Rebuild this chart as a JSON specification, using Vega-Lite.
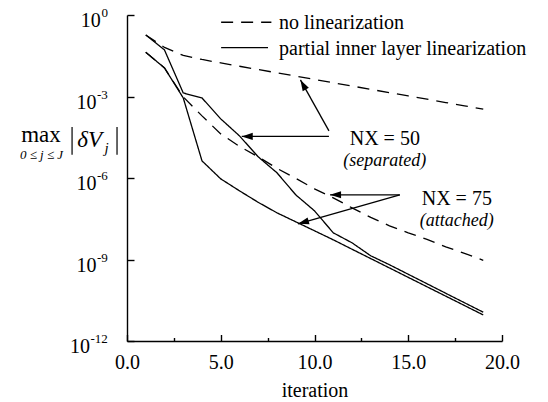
{
  "$schema": "https://vega.github.io/schema/vega-lite/v6.json",
  "width": 375,
  "height": 326,
  "autosize": {"type": "none"},
  "padding": {"left": 127, "top": 15, "right": 46, "bottom": 61},
  "background": "white",
  "config": {
    "font": "Liberation Serif",
    "view": {"stroke": null},
    "axis": {"grid": false, "domainColor": "black", "tickColor": "black", "labelColor": "black", "titleColor": "black", "domainWidth": 1.4, "tickWidth": 1.4, "labelFont": "Liberation Serif", "titleFont": "Liberation Serif", "titleFontWeight": "normal"}
  },
  "layer": [
    {
      "data": {"values": [
        {"it":1,"v":0.1837,"method":"no linearization","nx":"50"},
        {"it":2,"v":0.0638,"method":"no linearization","nx":"50"},
        {"it":3,"v":0.0324,"method":"no linearization","nx":"50"},
        {"it":4,"v":0.0231,"method":"no linearization","nx":"50"},
        {"it":5,"v":0.0172,"method":"no linearization","nx":"50"},
        {"it":6,"v":0.0130,"method":"no linearization","nx":"50"},
        {"it":7,"v":0.00982,"method":"no linearization","nx":"50"},
        {"it":8,"v":0.00743,"method":"no linearization","nx":"50"},
        {"it":9,"v":0.00561,"method":"no linearization","nx":"50"},
        {"it":10,"v":0.00425,"method":"no linearization","nx":"50"},
        {"it":11,"v":0.00321,"method":"no linearization","nx":"50"},
        {"it":12,"v":0.00243,"method":"no linearization","nx":"50"},
        {"it":13,"v":0.00183,"method":"no linearization","nx":"50"},
        {"it":14,"v":0.00139,"method":"no linearization","nx":"50"},
        {"it":15,"v":0.00105,"method":"no linearization","nx":"50"},
        {"it":16,"v":0.000794,"method":"no linearization","nx":"50"},
        {"it":17,"v":0.000600,"method":"no linearization","nx":"50"},
        {"it":18,"v":0.000454,"method":"no linearization","nx":"50"},
        {"it":19,"v":0.000344,"method":"no linearization","nx":"50"},
        {"it":1,"v":0.1837,"method":"partial inner layer linearization","nx":"50"},
        {"it":2,"v":0.0516,"method":"partial inner layer linearization","nx":"50"},
        {"it":3,"v":0.00135,"method":"partial inner layer linearization","nx":"50"},
        {"it":4,"v":0.000885,"method":"partial inner layer linearization","nx":"50"},
        {"it":5,"v":0.000150,"method":"partial inner layer linearization","nx":"50"},
        {"it":6,"v":3.55e-5,"method":"partial inner layer linearization","nx":"50"},
        {"it":7,"v":6.0e-6,"method":"partial inner layer linearization","nx":"50"},
        {"it":8,"v":1.55e-6,"method":"partial inner layer linearization","nx":"50"},
        {"it":9,"v":2.40e-7,"method":"partial inner layer linearization","nx":"50"},
        {"it":10,"v":6.19e-8,"method":"partial inner layer linearization","nx":"50"},
        {"it":11,"v":9.62e-9,"method":"partial inner layer linearization","nx":"50"},
        {"it":12,"v":4.12e-9,"method":"partial inner layer linearization","nx":"50"},
        {"it":13,"v":1.37e-9,"method":"partial inner layer linearization","nx":"50"},
        {"it":14,"v":6.40e-10,"method":"partial inner layer linearization","nx":"50"},
        {"it":15,"v":2.86e-10,"method":"partial inner layer linearization","nx":"50"},
        {"it":16,"v":1.28e-10,"method":"partial inner layer linearization","nx":"50"},
        {"it":17,"v":5.71e-11,"method":"partial inner layer linearization","nx":"50"},
        {"it":18,"v":2.56e-11,"method":"partial inner layer linearization","nx":"50"},
        {"it":19,"v":1.15e-11,"method":"partial inner layer linearization","nx":"50"},
        {"it":1,"v":0.0425,"method":"no linearization","nx":"75"},
        {"it":2,"v":0.01125,"method":"no linearization","nx":"75"},
        {"it":3,"v":0.000964,"method":"no linearization","nx":"75"},
        {"it":4,"v":0.000193,"method":"no linearization","nx":"75"},
        {"it":5,"v":4.20e-5,"method":"no linearization","nx":"75"},
        {"it":6,"v":1.46e-5,"method":"no linearization","nx":"75"},
        {"it":7,"v":6.0e-6,"method":"no linearization","nx":"75"},
        {"it":8,"v":2.26e-6,"method":"no linearization","nx":"75"},
        {"it":9,"v":9.70e-7,"method":"no linearization","nx":"75"},
        {"it":10,"v":3.99e-7,"method":"no linearization","nx":"75"},
        {"it":11,"v":1.86e-7,"method":"no linearization","nx":"75"},
        {"it":12,"v":7.98e-8,"method":"no linearization","nx":"75"},
        {"it":13,"v":3.56e-8,"method":"no linearization","nx":"75"},
        {"it":14,"v":1.74e-8,"method":"no linearization","nx":"75"},
        {"it":15,"v":9.59e-9,"method":"no linearization","nx":"75"},
        {"it":16,"v":5.53e-9,"method":"no linearization","nx":"75"},
        {"it":17,"v":2.93e-9,"method":"no linearization","nx":"75"},
        {"it":18,"v":1.69e-9,"method":"no linearization","nx":"75"},
        {"it":19,"v":9.35e-10,"method":"no linearization","nx":"75"},
        {"it":1,"v":0.0425,"method":"partial inner layer linearization","nx":"75"},
        {"it":2,"v":0.01125,"method":"partial inner layer linearization","nx":"75"},
        {"it":3,"v":0.000885,"method":"partial inner layer linearization","nx":"75"},
        {"it":4,"v":4.27e-6,"method":"partial inner layer linearization","nx":"75"},
        {"it":5,"v":9.29e-7,"method":"partial inner layer linearization","nx":"75"},
        {"it":6,"v":3.37e-7,"method":"partial inner layer linearization","nx":"75"},
        {"it":7,"v":1.27e-7,"method":"partial inner layer linearization","nx":"75"},
        {"it":8,"v":5.22e-8,"method":"partial inner layer linearization","nx":"75"},
        {"it":9,"v":2.44e-8,"method":"partial inner layer linearization","nx":"75"},
        {"it":10,"v":1.14e-8,"method":"partial inner layer linearization","nx":"75"},
        {"it":11,"v":5.31e-9,"method":"partial inner layer linearization","nx":"75"},
        {"it":12,"v":2.39e-9,"method":"partial inner layer linearization","nx":"75"},
        {"it":13,"v":1.08e-9,"method":"partial inner layer linearization","nx":"75"},
        {"it":14,"v":4.88e-10,"method":"partial inner layer linearization","nx":"75"},
        {"it":15,"v":2.20e-10,"method":"partial inner layer linearization","nx":"75"},
        {"it":16,"v":9.91e-11,"method":"partial inner layer linearization","nx":"75"},
        {"it":17,"v":4.48e-11,"method":"partial inner layer linearization","nx":"75"},
        {"it":18,"v":2.02e-11,"method":"partial inner layer linearization","nx":"75"},
        {"it":19,"v":9.10e-12,"method":"partial inner layer linearization","nx":"75"}
      ]},
      "mark": {"type": "line", "color": "black", "strokeWidth": 1.3},
      "encoding": {
        "x": {"field": "it", "type": "quantitative", "scale": {"domain": [0, 20], "nice": false},
          "axis": {"title": "iteration", "titleFontSize": 20, "titlePadding": 8, "values": [0,2.5,5,7.5,10,12.5,15,17.5,20], "labelExpr": "datum.value % 5 == 0 ? format(datum.value, '.1f') : ''", "labelFlush": false, "labelFontSize": 20, "labelPadding": 18, "tickSize": {"condition": {"test": "datum.value % 5 != 0", "value": -3.5}, "value": -6.5}}},
        "y": {"field": "v", "type": "quantitative", "scale": {"type": "log", "domain": [1e-12, 1], "nice": false},
          "axis": {"title": null, "values": [1, 0.001, 1e-6, 1e-9, 1e-12], "labelExpr": "'10'", "labelFontSize": 20, "tickSize": -7, "labelBaseline": "alphabetic", "labelOffset": 11.5,
            "labelPadding": {"condition": [{"test": "datum.value > 0.5", "value": 33.7}, {"test": "datum.value < 1e-11", "value": 44.5}], "value": 38}}},
        "strokeDash": {"field": "method", "type": "nominal",
          "scale": {"domain": ["no linearization", "partial inner layer linearization"], "range": [[12, 8], [1, 0]]},
          "legend": null},
        "detail": {"field": "nx", "type": "nominal"}
      }
    },
    {
      "data": {"values": [
        {"v": 1, "e": "0"}, {"v": 0.001, "e": "-3"}, {"v": 1e-6, "e": "-6"}, {"v": 1e-9, "e": "-9"}, {"v": 1e-12, "e": "-12"}
      ]},
      "mark": {"type": "text", "fontSize": 13, "align": "right", "baseline": "alphabetic", "dy": 2, "color": "black", "font": "Liberation Serif"},
      "encoding": {"x": {"datum": -1.02, "type": "quantitative"}, "y": {"field": "v", "type": "quantitative"}, "text": {"field": "e"}}
    },
    {
      "data": {"values": [
        {"method": "no linearization", "x": 5.02, "x2": 7.7, "y": 0.54},
        {"method": "partial inner layer linearization", "x": 5.02, "x2": 7.52, "y": 0.0627}
      ]},
      "mark": {"type": "rule", "color": "black", "strokeWidth": 1.3},
      "encoding": {
        "x": {"field": "x", "type": "quantitative"},
        "x2": {"field": "x2"},
        "y": {"field": "y", "type": "quantitative"},
        "strokeDash": {"field": "method", "type": "nominal", "legend": null}
      }
    },
    {
      "data": {"values": [
        {"label": "no linearization", "x": 8.11, "y": 0.293},
        {"label": "partial inner layer linearization", "x": 8.11, "y": 0.0324}
      ]},
      "mark": {"type": "text", "fontSize": 20, "align": "left", "baseline": "alphabetic", "color": "black", "font": "Liberation Serif"},
      "encoding": {"x": {"field": "x", "type": "quantitative"}, "y": {"field": "y", "type": "quantitative"}, "text": {"field": "label"}}
    },
    {
      "data": {"values": [
        {"x": 10.77, "y": 5.42e-5, "x2": 9.25, "y2": 4.07e-3},
        {"x": 10.77, "y": 3.40e-5, "x2": 6.12, "y2": 3.40e-5},
        {"x": 14.55, "y": 2.40e-7, "x2": 10.83, "y2": 2.40e-7},
        {"x": 14.55, "y": 2.40e-7, "x2": 9.12, "y2": 2.06e-8}
      ]},
      "mark": {"type": "rule", "color": "black", "strokeWidth": 1.3},
      "encoding": {
        "x": {"field": "x", "type": "quantitative"},
        "y": {"field": "y", "type": "quantitative"},
        "x2": {"field": "x2"},
        "y2": {"field": "y2"}
      }
    },
    {
      "data": {"values": [{"x": 6.12, "y": 3.40e-5}, {"x": 10.83, "y": 2.40e-7}]},
      "mark": {"type": "point", "shape": "M0,0L1,-0.32L1,0.32Z", "size": 484, "filled": true, "color": "black", "opacity": 1, "strokeWidth": 0},
      "encoding": {"x": {"field": "x", "type": "quantitative"}, "y": {"field": "y", "type": "quantitative"}}
    },
    {
      "data": {"values": [{"x": 9.25, "y": 4.07e-3}]},
      "mark": {"type": "point", "shape": "M0,0L1,-0.32L1,0.32Z", "size": 484, "angle": 61, "filled": true, "color": "black", "opacity": 1, "strokeWidth": 0},
      "encoding": {"x": {"field": "x", "type": "quantitative"}, "y": {"field": "y", "type": "quantitative"}}
    },
    {
      "data": {"values": [{"x": 9.12, "y": 2.06e-8}]},
      "mark": {"type": "point", "shape": "M0,0L1,-0.32L1,0.32Z", "size": 484, "angle": -16, "filled": true, "color": "black", "opacity": 1, "strokeWidth": 0},
      "encoding": {"x": {"field": "x", "type": "quantitative"}, "y": {"field": "y", "type": "quantitative"}}
    },
    {
      "data": {"values": [{"x": 13.75, "y": 1.587e-5, "label": "NX = 50"}, {"x": 17.59, "y": 1.028e-7, "label": "NX = 75"}]},
      "mark": {"type": "text", "fontSize": 20, "align": "center", "baseline": "alphabetic", "color": "black", "font": "Liberation Serif"},
      "encoding": {"x": {"field": "x", "type": "quantitative"}, "y": {"field": "y", "type": "quantitative"}, "text": {"field": "label"}}
    },
    {
      "data": {"values": [{"x": 13.75, "y": 2.68e-6, "label": "(separated)"}, {"x": 17.59, "y": 1.738e-8, "label": "(attached)"}]},
      "mark": {"type": "text", "fontSize": 18, "fontStyle": "italic", "align": "center", "baseline": "alphabetic", "color": "black", "font": "Liberation Serif"},
      "encoding": {"x": {"field": "x", "type": "quantitative"}, "y": {"field": "y", "type": "quantitative"}, "text": {"field": "label"}}
    },
    {
      "data": {"values": [{"x": -4.59, "y": 2.19e-5, "label": "max"}]},
      "mark": {"type": "text", "fontSize": 23, "align": "center", "baseline": "alphabetic", "color": "black", "font": "Liberation Serif"},
      "encoding": {"x": {"field": "x", "type": "quantitative"}, "y": {"field": "y", "type": "quantitative"}, "text": {"field": "label"}}
    },
    {
      "data": {"values": [{"x": -4.56, "y": 5.2e-6, "label": "0 ≤ j ≤ J"}]},
      "mark": {"type": "text", "fontSize": 13, "fontStyle": "italic", "align": "center", "baseline": "alphabetic", "color": "black", "font": "Liberation Serif"},
      "encoding": {"x": {"field": "x", "type": "quantitative"}, "y": {"field": "y", "type": "quantitative"}, "text": {"field": "label"}}
    },
    {
      "data": {"values": [{"x": -2.65, "y": 1.43e-5, "label": "δV"}]},
      "mark": {"type": "text", "fontSize": 23, "fontStyle": "italic", "align": "left", "baseline": "alphabetic", "color": "black", "font": "Liberation Serif"},
      "encoding": {"x": {"field": "x", "type": "quantitative"}, "y": {"field": "y", "type": "quantitative"}, "text": {"field": "label"}}
    },
    {
      "data": {"values": [{"x": -1.2, "y": 8.4e-6, "label": "j"}]},
      "mark": {"type": "text", "fontSize": 15, "fontStyle": "italic", "align": "left", "baseline": "alphabetic", "color": "black", "font": "Liberation Serif"},
      "encoding": {"x": {"field": "x", "type": "quantitative"}, "y": {"field": "y", "type": "quantitative"}, "text": {"field": "label"}}
    },
    {
      "data": {"values": [{"x": -2.93, "y": 7.6e-5, "y2": 7.1e-6}, {"x": -0.532, "y": 7.6e-5, "y2": 7.1e-6}]},
      "mark": {"type": "rule", "color": "black", "strokeWidth": 1.2},
      "encoding": {"x": {"field": "x", "type": "quantitative"}, "y": {"field": "y", "type": "quantitative"}, "y2": {"field": "y2"}}
    }
  ]
}
